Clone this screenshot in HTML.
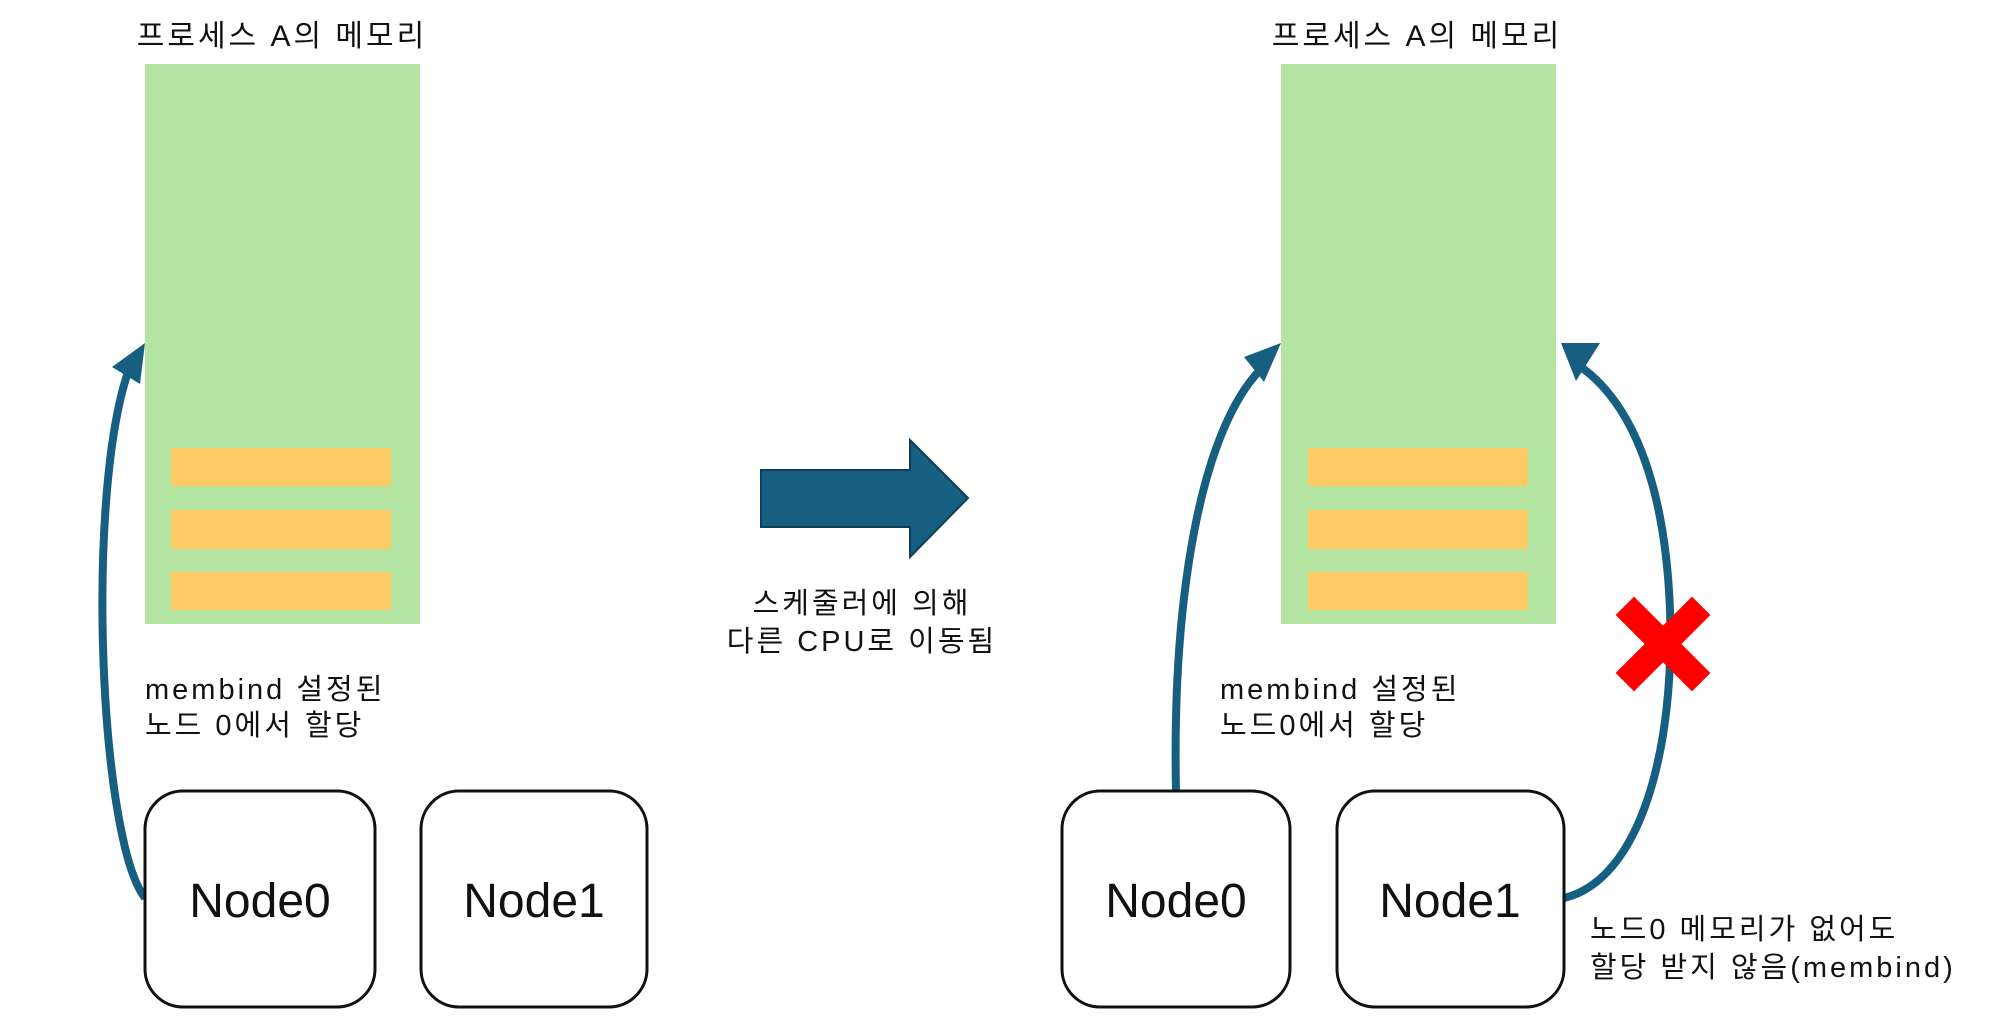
<!DOCTYPE html>
<html><head><meta charset="utf-8"><style>
body{margin:0;width:2000px;height:1017px;background:#fff;overflow:hidden}
svg text{font-family:"Liberation Sans","Noto Sans CJK KR",sans-serif;fill:#111}
.k{letter-spacing:3px}
</style></head><body>
<svg width="2000" height="1017" viewBox="0 0 2000 1017" xmlns="http://www.w3.org/2000/svg">
<!-- left panel -->
<text class="k" x="282" y="46" font-size="30" text-anchor="middle">프로세스 A의 메모리</text>
<rect x="145" y="64" width="275" height="560" fill="#b4e4a2"/>
<rect x="171" y="448" width="220" height="38" fill="#fdca64"/>
<rect x="171" y="510" width="220" height="39" fill="#fdca64"/>
<rect x="171" y="572" width="220" height="38" fill="#fdca64"/>
<path d="M145 898 C100 840 85 500 128 372" fill="none" stroke="#175f80" stroke-width="8"/>
<polygon points="145,343 112,367 140,384" fill="#175f80"/>
<text class="k" x="145" y="699" font-size="29">membind 설정된</text>
<text class="k" x="145" y="735" font-size="29">노드 0에서 할당</text>
<rect x="145" y="791" width="230" height="216" rx="38" fill="#fff" stroke="#111" stroke-width="3"/>
<text x="260" y="917" font-size="48" text-anchor="middle">Node0</text>
<rect x="421" y="791" width="226" height="216" rx="38" fill="#fff" stroke="#111" stroke-width="3"/>
<text x="534" y="917" font-size="48" text-anchor="middle">Node1</text>
<!-- big arrow -->
<polygon points="761,470 910,470 910,440 968,498 910,557 910,527 761,527" fill="#175f80" stroke="#0f3f58" stroke-width="2"/>
<text class="k" x="862" y="613" font-size="29" text-anchor="middle">스케줄러에 의해</text>
<text class="k" x="862" y="651" font-size="29" text-anchor="middle">다른 CPU로 이동됨</text>
<!-- right panel -->
<text class="k" x="1417" y="46" font-size="30" text-anchor="middle">프로세스 A의 메모리</text>
<rect x="1281" y="64" width="275" height="560" fill="#b4e4a2"/>
<rect x="1308" y="448" width="220" height="38" fill="#fdca64"/>
<rect x="1308" y="510" width="220" height="39" fill="#fdca64"/>
<rect x="1308" y="572" width="220" height="38" fill="#fdca64"/>
<path d="M1176 791 C1172 600 1200 430 1262 368" fill="none" stroke="#175f80" stroke-width="8"/>
<polygon points="1281,343 1244,357 1264,382" fill="#175f80"/>
<path d="M1564 898 C1640 880 1675 750 1670 610 C1665 480 1630 400 1578 365" fill="none" stroke="#175f80" stroke-width="8"/>
<polygon points="1561,343 1600,343 1576,381" fill="#175f80"/>
<g transform="translate(1663 644) rotate(45)">
<rect x="-54" y="-13" width="108" height="26" fill="#ff0000"/>
<rect x="-13" y="-54" width="26" height="108" fill="#ff0000"/>
</g>
<text class="k" x="1220" y="699" font-size="29">membind 설정된</text>
<text class="k" x="1220" y="735" font-size="29">노드0에서 할당</text>
<rect x="1062" y="791" width="228" height="216" rx="38" fill="#fff" stroke="#111" stroke-width="3"/>
<text x="1176" y="917" font-size="48" text-anchor="middle">Node0</text>
<rect x="1337" y="791" width="227" height="216" rx="38" fill="#fff" stroke="#111" stroke-width="3"/>
<text x="1450" y="917" font-size="48" text-anchor="middle">Node1</text>
<text class="k" x="1590" y="939" font-size="29">노드0 메모리가 없어도</text>
<text class="k" x="1590" y="977" font-size="29">할당 받지 않음(membind)</text>
</svg>
</body></html>
